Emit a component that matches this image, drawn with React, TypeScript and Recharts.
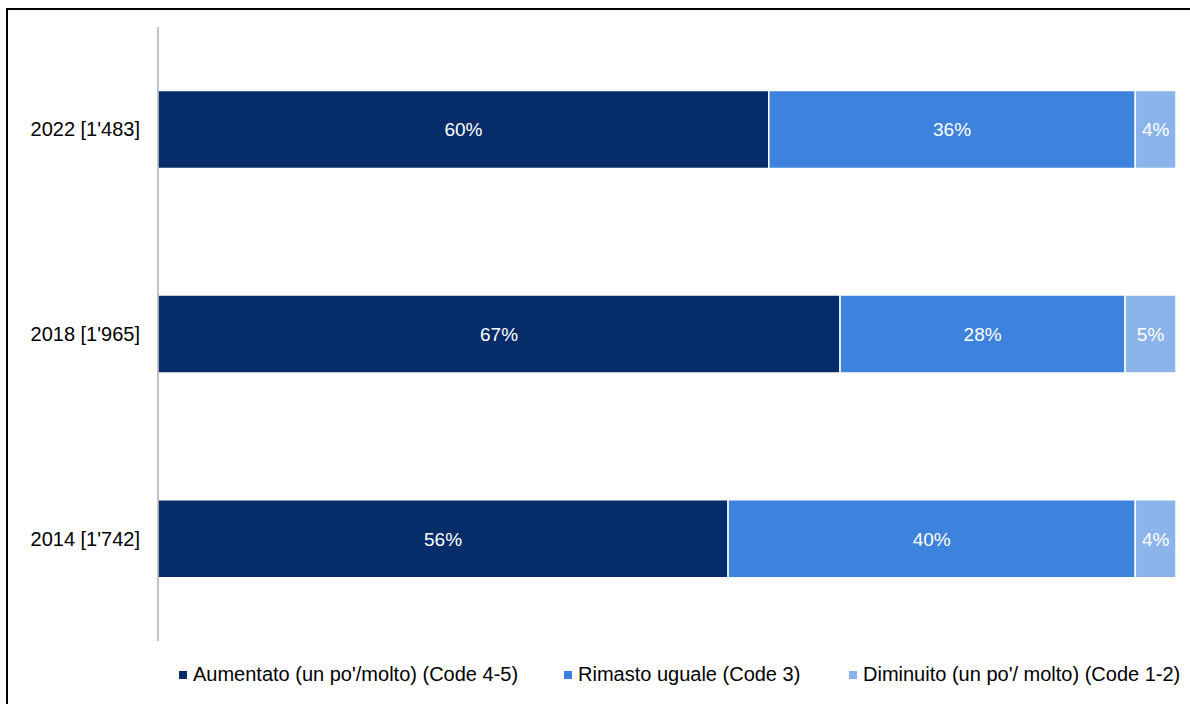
import React from 'react';
import { BarChart, Bar, XAxis, YAxis, LabelList } from 'recharts';

const categories = ["2022 [1'483]", "2018 [1'965]", "2014 [1'742]"];
const aumentato = [60, 67, 56];
const rimasto = [36, 28, 40];
const diminuito = [4, 5, 4];

const seriesNames = [
  "Aumentato (un po'/molto) (Code 4-5)",
  'Rimasto uguale (Code 3)',
  "Diminuito (un po'/ molto) (Code 1-2)",
];
const colors = ['#072C6A', '#3D82DC', '#8BB4EA'];
const legendX = [179, 564, 849];

const data = categories.map((name, i) => ({
  name,
  a: aumentato[i],
  r: rimasto[i],
  d: diminuito[i],
}));

const FONT = 'Liberation Sans, Arial, sans-serif';

const pct = (v: any) => `${v}%`;

const LegendBox: React.FC = () => (
  <>
    {seriesNames.map((n, i) => (
      <div
        key={n}
        style={{
          position: 'absolute',
          left: legendX[i],
          top: 663,
          display: 'flex',
          alignItems: 'center',
          fontFamily: FONT,
          fontSize: 20,
          lineHeight: '23px',
          color: '#000',
          whiteSpace: 'nowrap',
        }}
      >
        <span style={{ width: 8, height: 8, background: colors[i], display: 'inline-block', marginRight: 6 }} />
        <span>{n}</span>
      </div>
    ))}
  </>
);

const App: React.FC = () => {
  const keys = ['a', 'r', 'd'];
  return (
    <div style={{ position: 'absolute', left: 0, top: 0, width: 1190, height: 704, overflow: 'hidden', background: '#fff' }}>
      <div
        style={{
          position: 'absolute',
          left: 6,
          top: 8,
          width: 1200,
          height: 720,
          border: '2px solid #000',
          boxSizing: 'border-box',
        }}
      />
      <div style={{ position: 'absolute', left: 0, top: 0 }}>
        <BarChart
          width={1190}
          height={704}
          data={data}
          layout="vertical"
          margin={{ top: 27, right: 14, bottom: 63, left: 0 }}
          barCategoryGap="31%"
        >
          <XAxis type="number" domain={[0, 100]} hide />
          <YAxis
            type="category"
            dataKey="name"
            width={158}
            tickLine={false}
            axisLine={{ stroke: '#888', strokeWidth: 1 }}
            tickMargin={12}
            tick={{ fill: '#000', fontSize: 20, fontFamily: FONT }}
          />
          {keys.map((k, i) => (
            <Bar
              key={k}
              dataKey={k}
              stackId="s"
              fill={colors[i]}
              stroke="#fff"
              strokeWidth={1.5}
              isAnimationActive={false}
            >
              <LabelList
                dataKey={k}
                position="center"
                formatter={pct}
                fill="#fff"
                style={{ fontSize: 19, fontFamily: FONT }}
              />
            </Bar>
          ))}
        </BarChart>
      </div>
      <LegendBox />
    </div>
  );
};

export default App;
